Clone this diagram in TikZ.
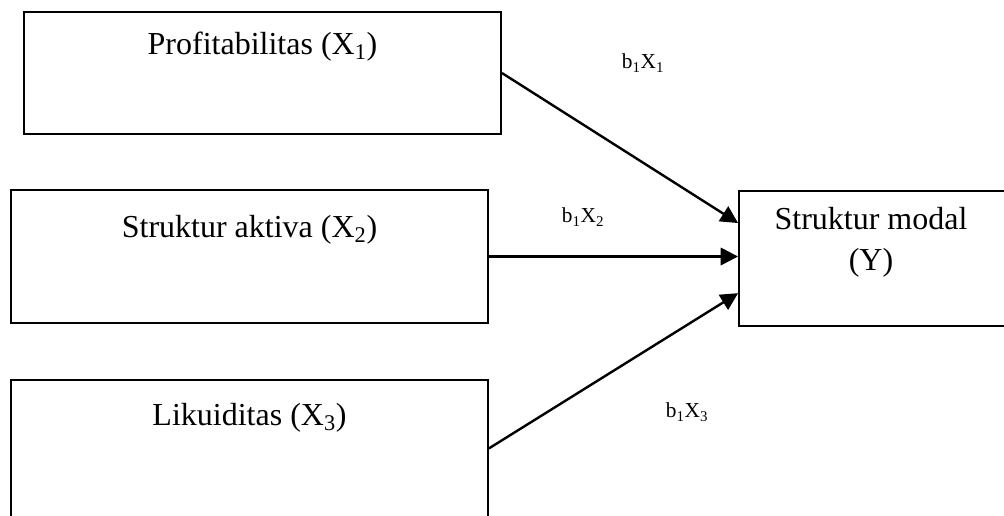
\documentclass[tikz,border=0pt]{standalone}
\usepackage{fontspec}
\setmainfont{Liberation Serif}
\usetikzlibrary{arrows.meta}

\tikzset{
  varbox/.style={draw, line width=1.4pt, rectangle, inner sep=0pt},
  vartext/.style={font=\fontsize{24}{31}\selectfont, align=center, inner sep=0pt},
  coef/.style={font=\fontsize{16}{19}\selectfont, inner sep=0pt},
  effect/.style={line width=1.8pt, -{Triangle[length=13pt,width=13pt]}}
}

\begin{document}
\begin{tikzpicture}[x=0.75pt, y=-0.75pt]
\useasboundingbox (0,0) rectangle (1004,515);

\node[varbox, minimum width=477*0.75pt, minimum height=122*0.75pt] (b1) at (262.5, 73) {};
\node[varbox, minimum width=477*0.75pt, minimum height=133*0.75pt] (b2) at (249.5, 256.5) {};
\node[varbox, minimum width=477*0.75pt, minimum height=160*0.75pt] (b3) at (249.5, 460) {};
\node[varbox, minimum width=320*0.75pt, minimum height=135*0.75pt] (by) at (899, 258.5) {};

\node[vartext] (t1) at (262.5, 47) {Profitabilitas (X\textsubscript{1})};
\node[vartext] (t2) at (249.5, 230) {Struktur aktiva (X\textsubscript{2})};
\node[vartext] (t3) at (249.5, 418) {Likuiditas (X\textsubscript{3})};
\node[vartext] (ty) at (871, 242) {Struktur modal\\(Y)};

\node[coef] (c1) at (643, 63) {b\textsubscript{1}X\textsubscript{1}};
\node[coef] (c2) at (583, 217) {b\textsubscript{1}X\textsubscript{2}};
\node[coef] (c3) at (687, 412) {b\textsubscript{1}X\textsubscript{3}};

\draw[effect] (b1.east) -- ([yshift=26.6pt]by.west);
\draw[effect] (b2.east) -- (b2.east -| by.west);
\draw[effect] ([yshift=-52pt]b3.north east) -- ([yshift=-26pt]by.west);
\end{tikzpicture}
\end{document}
